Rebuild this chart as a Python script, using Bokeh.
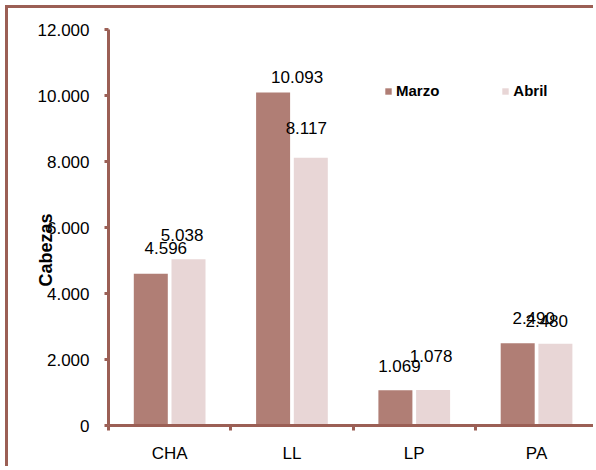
import math
from bokeh.plotting import figure
from bokeh.models import (Range1d, FixedTicker, Legend, LegendItem,
                          ColumnDataSource)
from bokeh.core.properties import value
from bokeh.embed import file_html
from bokeh.resources import INLINE

# ---------------- data ----------------
categories = ["CHA", "LL", "LP", "PA"]
marzo = [4596, 10093, 1069, 2490]
abril = [5038, 8117, 1078, 2480]
series_names = ["Marzo", "Abril"]
y_ticks = [0, 2000, 4000, 6000, 8000, 10000, 12000]
y_tick_labels = ["0", "2.000", "4.000", "6.000", "8.000", "10.000", "12.000"]
y_title = "Cabezas"

# ---------------- styles ----------------
AXIS_COLOR = "#9B5F55"
C_MARZO = "#B07E75"
C_ABRIL = "#E8D6D6"
FONT = "Liberation Sans"

W, H = 588, 461
LEFT, TOP, BOTTOM = 100, 21, 44
CAT_PX = 122.3
BAR_W = 34 / CAT_PX
DODGE = 18.85 / CAT_PX
NBSP = "\u00a0"
LABEL_LIFT = 7.5

def fmt(v):
    return f"{v:,}".replace(",", ".")

x_end = (W - LEFT) / CAT_PX

p = figure(width=W, height=H, output_backend="svg", toolbar_location=None,
           x_range=Range1d(0, x_end), y_range=Range1d(0, 12000),
           min_border_left=LEFT, min_border_top=TOP, min_border_bottom=BOTTOM,
           min_border_right=0)
p.styles = {"margin-left": "5px", "margin-top": "5px",
            "border-left": f"3px solid {AXIS_COLOR}",
            "border-top": f"3px solid {AXIS_COLOR}"}
p.outline_line_color = None
p.xgrid.visible = False
p.ygrid.visible = False
p.background_fill_color = "white"
p.border_fill_color = "white"

centers = [i + 0.5 for i in range(len(categories))]
x_m = [c - DODGE for c in centers]
x_a = [c + DODGE for c in centers]

r_m = p.vbar(x=x_m, top=marzo, width=BAR_W, fill_color=C_MARZO, line_color=None)
r_a = p.vbar(x=x_a, top=abril, width=BAR_W, fill_color=C_ABRIL, line_color=None)

# data labels (hand-placed offsets like in the original)
dx_m = [15, 24, 4, 16]
gap_m = [18, 8, 17, 17.7]
dx_a = [-6.4, -4.5, -2, -8.7]
gap_a = [17, 21.7, 26, 14.7]
lab_src = ColumnDataSource(dict(
    x=x_m + x_a,
    y=marzo + abril,
    t=[fmt(v) for v in marzo + abril],
    xo=dx_m + dx_a,
    yo=[-(g + LABEL_LIFT) for g in gap_m + gap_a],
))
p.text(x="x", y="y", text="t", x_offset="xo", y_offset="yo", source=lab_src,
       text_font=value(FONT), text_font_size="17px", text_color="black",
       text_align="center", text_baseline="alphabetic")

# x axis
xa = p.xaxis[0]
xa.ticker = FixedTicker(ticks=centers, minor_ticks=list(range(len(categories) + 1)))
xa.major_label_overrides = {c: n for c, n in zip(centers, categories)}
xa.major_tick_out = 0
xa.major_tick_in = 0
xa.minor_tick_out = 5
xa.minor_tick_in = 0
xa.minor_tick_line_color = AXIS_COLOR
xa.minor_tick_line_width = 3
xa.axis_line_color = AXIS_COLOR
xa.axis_line_width = 3
xa.major_label_standoff = 13
xa.major_label_text_font = FONT
xa.major_label_text_font_size = "17px"
xa.major_label_text_color = "black"

# y axis
ya = p.yaxis[0]
ya.ticker = FixedTicker(ticks=y_ticks, minor_ticks=[])
ya.major_label_overrides = {t: l for t, l in zip(y_ticks, y_tick_labels)}
ya.major_tick_out = 4
ya.major_tick_in = 0
ya.major_tick_line_color = AXIS_COLOR
ya.major_tick_line_width = 3
ya.axis_line_color = AXIS_COLOR
ya.axis_line_width = 3
ya.major_label_standoff = 15
ya.major_label_text_font = FONT
ya.major_label_text_font_size = "17px"
ya.major_label_text_color = "black"
# title overlaps the tick labels and sits below centre, as in the original
ya.axis_label = y_title + NBSP * 9
ya.axis_label_standoff = -21
ya.axis_label_text_font = FONT
ya.axis_label_text_font_size = "18px"
ya.axis_label_text_font_style = "bold"
ya.axis_label_text_color = "black"

legend = Legend(items=[LegendItem(label=series_names[0], renderers=[r_m]),
                       LegendItem(label=series_names[1], renderers=[r_a])],
                orientation="horizontal", location=(276, 326),
                glyph_width=8, glyph_height=8, label_height=8,
                label_standoff=4, spacing=62, padding=0, margin=0,
                border_line_color=None, background_fill_alpha=0,
                label_text_font=FONT, label_text_font_size="15px",
                label_text_font_style="bold", label_text_color="black")
p.add_layout(legend)

open("out.html", "w").write(file_html(p, INLINE))
